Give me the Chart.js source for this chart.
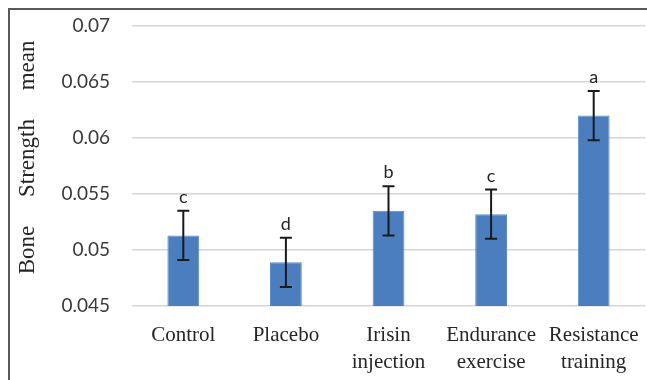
<!DOCTYPE html>
<html>
<head>
<meta charset="utf-8">
<script src="https://cdn.jsdelivr.net/npm/chart.js@4"></script>
<style>
  html, body { margin: 0; padding: 0; background: #fff; }
  #chart { display: block; }
</style>
</head>
<body>
<canvas id="chart" width="647" height="380"></canvas>
<script>
const groups = [['Control'], ['Placebo'], ['Irisin', 'injection'], ['Endurance', 'exercise'], ['Resistance', 'training']];
const means = [0.0513, 0.0489, 0.0535, 0.0532, 0.0620];
const errors = [0.0022, 0.0022, 0.0022, 0.0022, 0.0022];
const letters = ['c', 'd', 'b', 'c', 'a'];
const yTickLabels = ['0.045', '0.05', '0.055', '0.06', '0.065', '0.07'];

// outer frame (top + left edges visible in the original)
const framePlugin = {
  id: 'frame',
  beforeDraw(chart) {
    const ctx = chart.ctx;
    ctx.save();
    ctx.strokeStyle = '#595959';
    ctx.lineWidth = 2;
    ctx.beginPath();
    ctx.moveTo(9, chart.height);
    ctx.lineTo(9, 9);
    ctx.lineTo(chart.width, 9);
    ctx.stroke();
    ctx.restore();
  }
};

// error bars + significance letters
const errorPlugin = {
  id: 'errorBars',
  afterDatasetsDraw(chart) {
    const ctx = chart.ctx;
    const y = chart.scales.y;
    const meta = chart.getDatasetMeta(0);
    ctx.save();
    ctx.strokeStyle = '#1a1a1a';
    ctx.lineWidth = 2;
    ctx.fillStyle = '#262626';
    ctx.font = '18px Lato, sans-serif';
    ctx.textAlign = 'center';
    ctx.textBaseline = 'alphabetic';
    meta.data.forEach((bar, i) => {
      const x = bar.x;
      const top = y.getPixelForValue(means[i] + errors[i]);
      const bot = y.getPixelForValue(means[i] - errors[i]);
      ctx.beginPath();
      ctx.moveTo(x, top);
      ctx.lineTo(x, bot);
      ctx.moveTo(x - 6, top);
      ctx.lineTo(x + 6, top);
      ctx.moveTo(x - 6, bot);
      ctx.lineTo(x + 6, bot);
      ctx.stroke();
      ctx.fillText(letters[i], x, top - 8);
    });
    ctx.restore();
  }
};

new Chart(document.getElementById('chart'), {
  type: 'bar',
  data: {
    labels: groups,
    datasets: [{
      data: means,
      backgroundColor: '#4a7ebf',
      borderColor: '#5b8cc8',
      borderWidth: 1,
      barPercentage: 0.31,
      categoryPercentage: 1
    }]
  },
  options: {
    responsive: false,
    animation: false,
    layout: { padding: { top: 26, right: 2, left: 0, bottom: 0 } },
    plugins: { legend: { display: false }, tooltip: { enabled: false } },
    scales: {
      x: {
        grid: { display: false },
        border: { display: false },
        ticks: {
          color: '#262626',
          font: { family: "'Liberation Serif', 'Times New Roman', serif", size: 21, lineHeight: 1.3 },
          padding: 8,
          maxRotation: 0,
          autoSkip: false
        },
        afterFit(scale) { scale.height = 74; }
      },
      y: {
        min: 0.045,
        max: 0.07,
        // zero-width tick marks keep the labels away from the plot
        grid: { color: '#d6d6d6', lineWidth: 1.5, drawTicks: true, tickLength: 22, tickWidth: 0, tickColor: '#ffffff' },
        border: { display: false },
        ticks: {
          stepSize: 0.005,
          color: '#3a3a3a',
          padding: 0,
          font: { family: 'Lato, sans-serif', size: 19 },
          callback: (v, i) => yTickLabels[i]
        },
        title: {
          display: true,
          text: '   Bone     Strength     mean',
          color: '#262626',
          font: { family: "'Liberation Serif', 'Times New Roman', serif", size: 23, lineHeight: 1 },
          padding: { top: 16, bottom: 0 }
        },
        afterFit(scale) { scale.width = 132; }
      }
    }
  },
  plugins: [framePlugin, errorPlugin]
});
</script>
</body>
</html>
